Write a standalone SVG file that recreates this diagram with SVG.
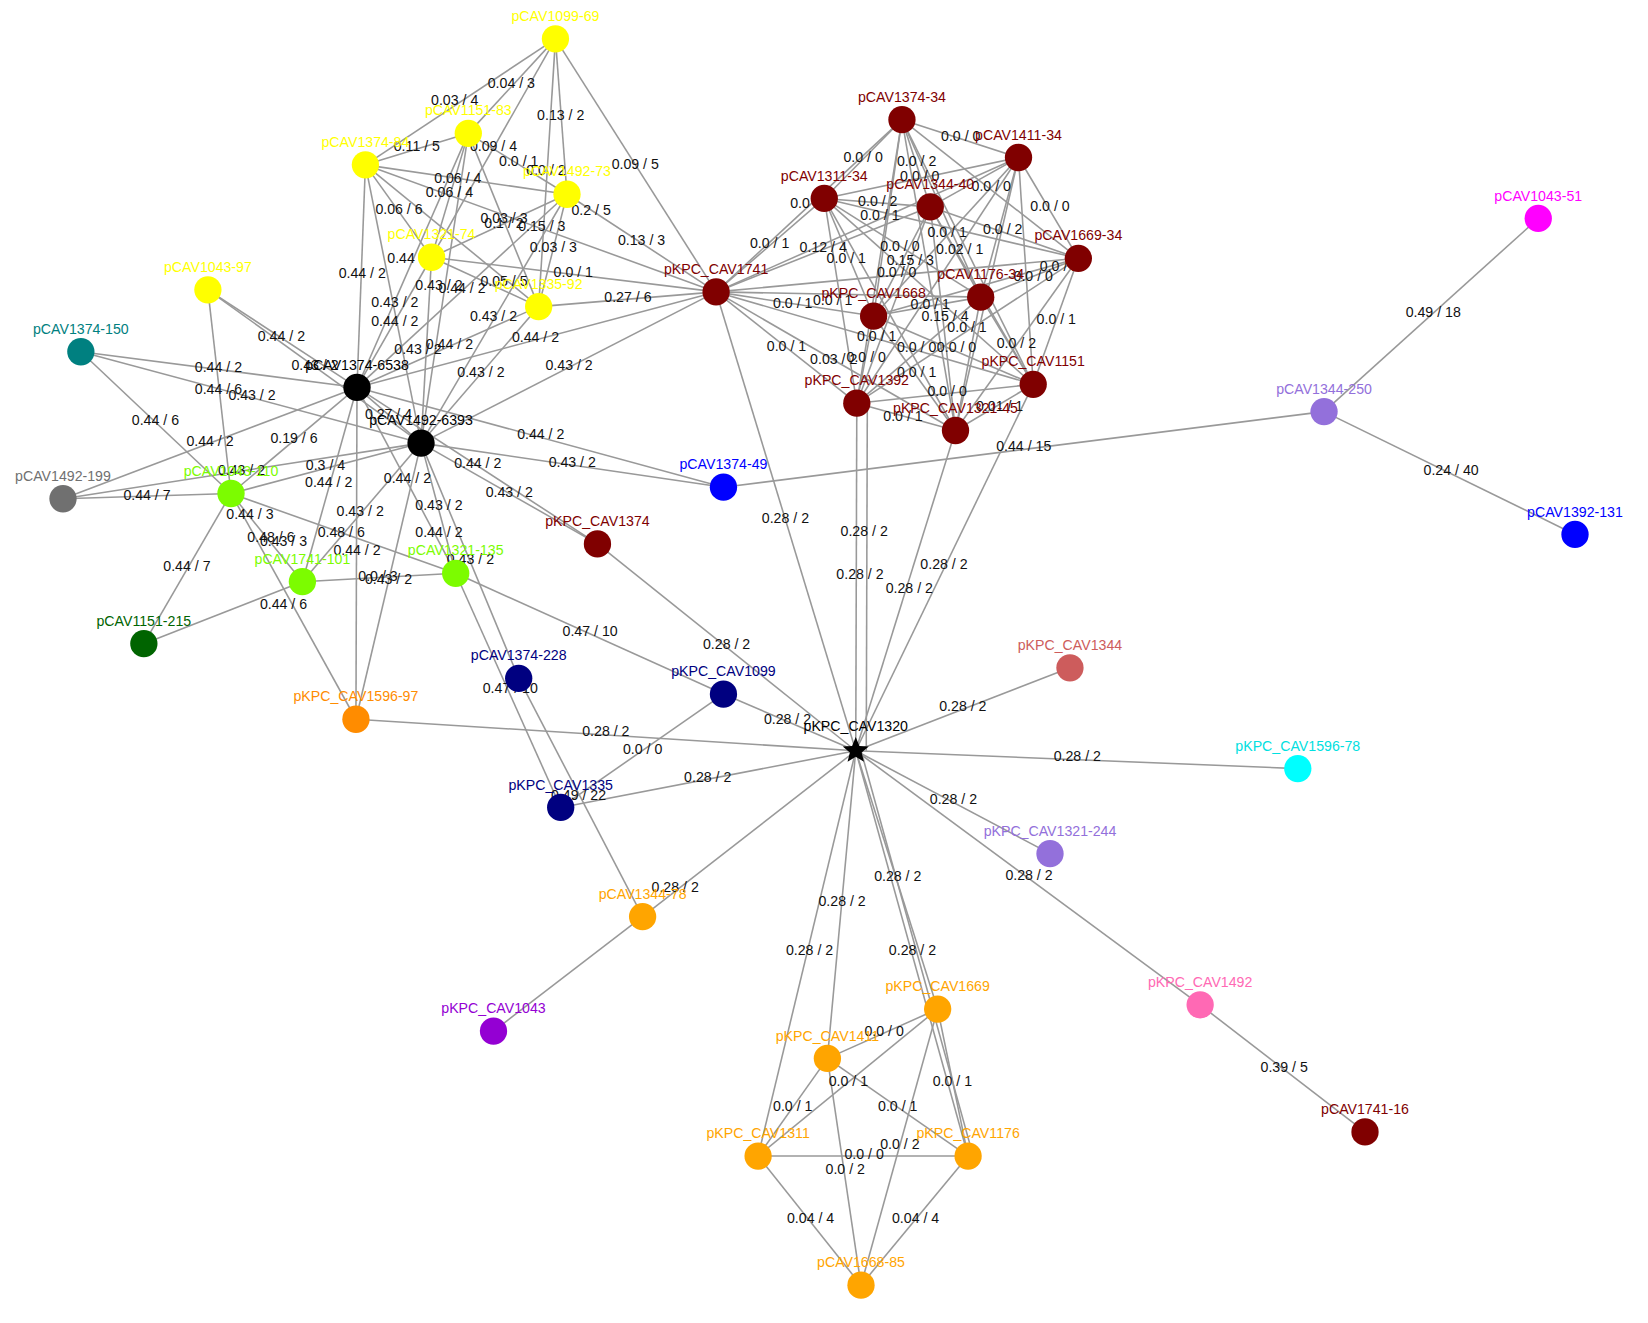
<svg xmlns="http://www.w3.org/2000/svg" width="1648" height="1323" viewBox="0 0 1648 1323">
<style>
.e line{stroke:#999;stroke-width:1.5}
.el{font-family:"Liberation Sans",Arial,sans-serif;font-size:13.5px;fill:#111;text-anchor:middle}
.nl{font-family:"Liberation Sans",Arial,sans-serif;font-size:13.5px;text-anchor:middle}
</style>
<rect width="1648" height="1323" fill="#fff"/>
<g transform="scale(1.05)">
<g id="connectors" class="e">
<line x1="529" y1="37" x2="446" y2="127"/><line x1="529" y1="37" x2="348" y2="157"/><line x1="529" y1="37" x2="540" y2="185"/><line x1="529" y1="37" x2="411" y2="245"/><line x1="529" y1="37" x2="513" y2="292"/><line x1="529" y1="37" x2="682" y2="278"/>
<line x1="446" y1="127" x2="348" y2="157"/><line x1="446" y1="127" x2="540" y2="185"/><line x1="446" y1="127" x2="513" y2="292"/><line x1="446" y1="127" x2="411" y2="245"/><line x1="446" y1="127" x2="340" y2="369"/><line x1="446" y1="127" x2="401" y2="422"/>
<line x1="348" y1="157" x2="540" y2="185"/><line x1="348" y1="157" x2="513" y2="292"/><line x1="348" y1="157" x2="411" y2="245"/><line x1="348" y1="157" x2="340" y2="369"/><line x1="348" y1="157" x2="401" y2="422"/><line x1="348" y1="157" x2="682" y2="278"/>
<line x1="540" y1="185" x2="411" y2="245"/><line x1="540" y1="185" x2="513" y2="292"/><line x1="540" y1="185" x2="682" y2="278"/><line x1="540" y1="185" x2="340" y2="369"/><line x1="540" y1="185" x2="401" y2="422"/>
<line x1="411" y1="245" x2="513" y2="292"/><line x1="411" y1="245" x2="682" y2="278"/><line x1="411" y1="245" x2="340" y2="369"/><line x1="411" y1="245" x2="401" y2="422"/>
<line x1="513" y1="292" x2="682" y2="278"/><line x1="513" y1="292" x2="340" y2="369"/><line x1="513" y1="292" x2="401" y2="422"/>
<line x1="198" y1="276" x2="340" y2="369"/><line x1="198" y1="276" x2="401" y2="422"/><line x1="198" y1="276" x2="220" y2="470"/>
<line x1="340" y1="369" x2="401" y2="422"/><line x1="340" y1="369" x2="682" y2="278"/><line x1="401" y1="422" x2="682" y2="278"/>
<line x1="340" y1="369" x2="689" y2="464"/><line x1="401" y1="422" x2="689" y2="464"/><line x1="340" y1="369" x2="569" y2="518"/><line x1="401" y1="422" x2="569" y2="518"/>
<line x1="77" y1="335" x2="340" y2="369"/><line x1="77" y1="335" x2="401" y2="422"/><line x1="77" y1="335" x2="220" y2="470"/>
<line x1="60" y1="475" x2="340" y2="369"/><line x1="60" y1="475" x2="220" y2="470"/><line x1="60" y1="475" x2="401" y2="422"/>
<line x1="220" y1="470" x2="340" y2="369"/><line x1="220" y1="470" x2="401" y2="422"/><line x1="220" y1="470" x2="137" y2="613"/><line x1="220" y1="470" x2="434" y2="546"/><line x1="220" y1="470" x2="288" y2="554"/><line x1="220" y1="470" x2="339" y2="685"/>
<line x1="288" y1="554" x2="340" y2="369"/><line x1="288" y1="554" x2="401" y2="422"/><line x1="288" y1="554" x2="434" y2="546"/><line x1="288" y1="554" x2="137" y2="613"/>
<line x1="434" y1="546" x2="340" y2="369"/><line x1="434" y1="546" x2="401" y2="422"/><line x1="340" y1="369" x2="339" y2="685"/><line x1="401" y1="422" x2="339" y2="685"/>
<line x1="434" y1="546" x2="689" y2="661"/><line x1="434" y1="546" x2="534" y2="769"/><line x1="401" y1="422" x2="494" y2="646"/><line x1="494" y1="646" x2="612" y2="873"/>
<line x1="815" y1="715" x2="682" y2="278"/><line x1="815" y1="715" x2="816" y2="384"/><line x1="825" y1="715" x2="826" y2="390"/><line x1="815" y1="715" x2="910" y2="410"/><line x1="815" y1="715" x2="984" y2="366"/>
<line x1="815" y1="715" x2="569" y2="518"/><line x1="815" y1="715" x2="689" y2="661"/><line x1="815" y1="715" x2="339" y2="685"/><line x1="815" y1="715" x2="534" y2="769"/><line x1="689" y1="661" x2="534" y2="769"/>
<line x1="815" y1="715" x2="1019" y2="636"/><line x1="815" y1="715" x2="1236" y2="732"/><line x1="815" y1="715" x2="1000" y2="813"/><line x1="815" y1="715" x2="1143" y2="957"/><line x1="1143" y1="957" x2="1300" y2="1078"/>
<line x1="815" y1="715" x2="612" y2="873"/><line x1="612" y1="873" x2="470" y2="982"/>
<line x1="815" y1="715" x2="722" y2="1101"/><line x1="815" y1="715" x2="788" y2="1008"/><line x1="815" y1="715" x2="893" y2="961"/><line x1="815" y1="715" x2="922" y2="1101"/><line x1="820" y1="715" x2="926" y2="1098"/>
<line x1="689" y1="464" x2="1261" y2="392"/><line x1="1261" y1="392" x2="1465" y2="208"/><line x1="1261" y1="392" x2="1500" y2="509"/>
<line x1="893" y1="961" x2="788" y2="1008"/><line x1="893" y1="961" x2="722" y2="1101"/><line x1="893" y1="961" x2="922" y2="1101"/><line x1="893" y1="961" x2="820" y2="1224"/>
<line x1="788" y1="1008" x2="722" y2="1101"/><line x1="788" y1="1008" x2="922" y2="1101"/><line x1="788" y1="1008" x2="820" y2="1224"/>
<line x1="722" y1="1101" x2="922" y2="1101"/><line x1="722" y1="1101" x2="820" y2="1224"/><line x1="922" y1="1101" x2="820" y2="1224"/>
<line x1="859" y1="114" x2="970" y2="150"/><line x1="859" y1="114" x2="785" y2="189"/><line x1="859" y1="114" x2="886" y2="197"/><line x1="859" y1="114" x2="1027" y2="246"/><line x1="859" y1="114" x2="682" y2="278"/><line x1="859" y1="114" x2="934" y2="283"/><line x1="859" y1="114" x2="832" y2="301"/><line x1="859" y1="114" x2="816" y2="384"/><line x1="859" y1="114" x2="984" y2="366"/><line x1="859" y1="114" x2="910" y2="410"/>
<line x1="970" y1="150" x2="785" y2="189"/><line x1="970" y1="150" x2="886" y2="197"/><line x1="970" y1="150" x2="1027" y2="246"/><line x1="970" y1="150" x2="682" y2="278"/><line x1="970" y1="150" x2="934" y2="283"/><line x1="970" y1="150" x2="832" y2="301"/><line x1="970" y1="150" x2="816" y2="384"/><line x1="970" y1="150" x2="984" y2="366"/><line x1="970" y1="150" x2="910" y2="410"/>
<line x1="785" y1="189" x2="886" y2="197"/><line x1="785" y1="189" x2="1027" y2="246"/><line x1="785" y1="189" x2="682" y2="278"/><line x1="785" y1="189" x2="934" y2="283"/><line x1="785" y1="189" x2="832" y2="301"/><line x1="785" y1="189" x2="816" y2="384"/><line x1="785" y1="189" x2="984" y2="366"/><line x1="785" y1="189" x2="910" y2="410"/>
<line x1="886" y1="197" x2="1027" y2="246"/><line x1="886" y1="197" x2="682" y2="278"/><line x1="886" y1="197" x2="934" y2="283"/><line x1="886" y1="197" x2="832" y2="301"/><line x1="886" y1="197" x2="816" y2="384"/><line x1="886" y1="197" x2="984" y2="366"/><line x1="886" y1="197" x2="910" y2="410"/>
<line x1="1027" y1="246" x2="682" y2="278"/><line x1="1027" y1="246" x2="934" y2="283"/><line x1="1027" y1="246" x2="832" y2="301"/><line x1="1027" y1="246" x2="816" y2="384"/><line x1="1027" y1="246" x2="984" y2="366"/><line x1="1027" y1="246" x2="910" y2="410"/>
<line x1="682" y1="278" x2="934" y2="283"/><line x1="682" y1="278" x2="832" y2="301"/><line x1="682" y1="278" x2="816" y2="384"/><line x1="682" y1="278" x2="984" y2="366"/><line x1="682" y1="278" x2="910" y2="410"/>
<line x1="934" y1="283" x2="832" y2="301"/><line x1="934" y1="283" x2="816" y2="384"/><line x1="934" y1="283" x2="984" y2="366"/><line x1="934" y1="283" x2="910" y2="410"/>
<line x1="832" y1="301" x2="816" y2="384"/><line x1="832" y1="301" x2="984" y2="366"/><line x1="832" y1="301" x2="910" y2="410"/>
<line x1="816" y1="384" x2="984" y2="366"/><line x1="816" y1="384" x2="910" y2="410"/><line x1="984" y1="366" x2="910" y2="410"/>
</g>
<g id="edge-labels" class="el">
<text x="487" y="84">0.04 / 3</text><text x="433" y="100">0.03 / 4</text><text x="534" y="114">0.13 / 2</text><text x="397" y="144">0.11 / 5</text><text x="470" y="144">0.09 / 4</text><text x="494" y="158">0.0 / 1</text><text x="520" y="167">0.0 / 2</text><text x="605" y="161">0.09 / 5</text>
<text x="436" y="174">0.06 / 4</text><text x="428" y="188">0.06 / 4</text><text x="563" y="205">0.2 / 5</text><text x="380" y="204">0.06 / 6</text><text x="480" y="217">0.1 / 2</text><text x="516" y="220">0.15 / 3</text><text x="480" y="212">0.03 / 3</text><text x="527" y="240">0.03 / 3</text><text x="611" y="233">0.13 / 3</text>
<text x="382" y="250">0.44</text><text x="345" y="265">0.44 / 2</text><text x="546" y="264">0.0 / 1</text><text x="480" y="272">0.05 / 5</text><text x="418" y="276">0.43 / 2</text><text x="440" y="279">0.44 / 2</text><text x="598" y="288">0.27 / 6</text>
<text x="376" y="292">0.43 / 2</text><text x="376" y="310">0.44 / 2</text><text x="470" y="306">0.43 / 2</text><text x="268" y="325">0.44 / 2</text><text x="510" y="326">0.44 / 2</text><text x="428" y="332">0.44 / 2</text><text x="398" y="337">0.43 / 2</text><text x="542" y="352">0.43 / 2</text><text x="458" y="359">0.43 / 2</text>
<text x="208" y="354">0.44 / 2</text><text x="300" y="352">0.43 / 2</text><text x="208" y="375">0.44 / 6</text><text x="240" y="381">0.43 / 2</text><text x="148" y="405">0.44 / 6</text><text x="370" y="399">0.27 / 4</text><text x="200" y="425">0.44 / 2</text><text x="280" y="422">0.19 / 6</text><text x="515" y="418">0.44 / 2</text>
<text x="310" y="448">0.3 / 4</text><text x="455" y="446">0.44 / 2</text><text x="545" y="445">0.43 / 2</text><text x="230" y="452">0.43 / 2</text><text x="313" y="464">0.44 / 2</text><text x="388" y="460">0.44 / 2</text><text x="140" y="476">0.44 / 7</text><text x="485" y="473">0.43 / 2</text><text x="418" y="486">0.43 / 2</text><text x="343" y="491">0.43 / 2</text>
<text x="238" y="494">0.44 / 3</text><text x="325" y="511">0.48 / 6</text><text x="258" y="516">0.48 / 6</text><text x="270" y="520">0.43 / 3</text><text x="418" y="511">0.44 / 2</text><text x="340" y="529">0.44 / 2</text><text x="448" y="537">0.43 / 2</text><text x="178" y="544">0.44 / 7</text><text x="360" y="553">0.0 / 3</text><text x="370" y="556">0.43 / 2</text><text x="270" y="580">0.44 / 6</text>
<text x="562" y="606">0.47 / 10</text><text x="486" y="660">0.47 / 10</text><text x="692" y="618">0.28 / 2</text><text x="748" y="498">0.28 / 2</text><text x="823" y="510">0.28 / 2</text><text x="819" y="551">0.28 / 2</text><text x="866" y="565">0.28 / 2</text><text x="899" y="542">0.28 / 2</text>
<text x="750" y="690">0.28 / 2</text><text x="577" y="701">0.28 / 2</text><text x="612" y="718">0.0 / 0</text><text x="674" y="745">0.28 / 2</text><text x="551" y="762">0.49 / 22</text>
<text x="917" y="677">0.28 / 2</text><text x="1026" y="725">0.28 / 2</text><text x="908" y="766">0.28 / 2</text><text x="980" y="838">0.28 / 2</text><text x="1223" y="1021">0.39 / 5</text><text x="975" y="430">0.44 / 15</text><text x="1365" y="302">0.49 / 18</text><text x="1382" y="452">0.24 / 40</text>
<text x="643" y="850">0.28 / 2</text><text x="855" y="839">0.28 / 2</text><text x="802" y="863">0.28 / 2</text><text x="771" y="910">0.28 / 2</text><text x="869" y="910">0.28 / 2</text>
<text x="842" y="987">0.0 / 0</text><text x="808" y="1034">0.0 / 1</text><text x="907" y="1034">0.0 / 1</text><text x="755" y="1058">0.0 / 1</text><text x="855" y="1058">0.0 / 1</text><text x="857" y="1094">0.0 / 2</text><text x="823" y="1104">0.0 / 0</text><text x="805" y="1118">0.0 / 2</text><text x="772" y="1165">0.04 / 4</text><text x="872" y="1165">0.04 / 4</text>
<text x="822" y="154">0.0 / 0</text><text x="873" y="158">0.0 / 2</text><text x="876" y="172">0.0 / 0</text><text x="944" y="182">0.0 / 0</text><text x="1000" y="201">0.0 / 0</text><text x="915" y="134">0.0 / 0</text><text x="836" y="196">0.0 / 2</text><text x="838" y="210">0.0 / 1</text><text x="762" y="198">0.0</text>
<text x="733" y="236">0.0 / 1</text><text x="784" y="240">0.12 / 4</text><text x="857" y="239">0.0 / 0</text><text x="902" y="226">0.0 / 1</text><text x="955" y="223">0.0 / 2</text><text x="914" y="242">0.02 / 1</text><text x="867" y="252">0.15 / 3</text><text x="806" y="250">0.0 / 1</text>
<text x="854" y="264">0.0 / 0</text><text x="1009" y="258">0.0 / 1</text><text x="984" y="268">0.0 / 0</text><text x="755" y="293">0.0 / 1</text><text x="793" y="290">0.0 / 1</text><text x="900" y="306">0.15 / 4</text><text x="886" y="294">0.0 / 1</text><text x="921" y="316">0.0 / 1</text><text x="1006" y="309">0.0 / 1</text>
<text x="835" y="325">0.0 / 1</text><text x="749" y="334">0.0 / 1</text><text x="968" y="331">0.0 / 2</text><text x="794" y="347">0.03 / 2</text><text x="825" y="345">0.0 / 0</text><text x="873" y="335">0.0 / 0</text><text x="911" y="335">0.0 / 0</text><text x="873" y="359">0.0 / 1</text><text x="902" y="377">0.0 / 0</text><text x="860" y="401">0.0 / 1</text><text x="952" y="391">0.01 / 1</text>
</g>
<g id="nodes">
<g id="n-pCAV1099-69"><circle cx="529" cy="37" r="13" fill="#ffff00"/><text class="nl" x="529" y="20" fill="#ffff00">pCAV1099-69</text></g>
<g id="n-pCAV1151-83"><circle cx="446" cy="127" r="13" fill="#ffff00"/><text class="nl" x="446" y="110" fill="#ffff00">pCAV1151-83</text></g>
<g id="n-pCAV1374-84"><circle cx="348" cy="157" r="13" fill="#ffff00"/><text class="nl" x="348" y="140" fill="#ffff00">pCAV1374-84</text></g>
<g id="n-pCAV1492-73"><circle cx="540" cy="185" r="13" fill="#ffff00"/><text class="nl" x="540" y="168" fill="#ffff00">pCAV1492-73</text></g>
<g id="n-pCAV1321-74"><circle cx="411" cy="245" r="13" fill="#ffff00"/><text class="nl" x="411" y="228" fill="#ffff00">pCAV1321-74</text></g>
<g id="n-pCAV1335-92"><circle cx="513" cy="292" r="13" fill="#ffff00"/><text class="nl" x="513" y="275" fill="#ffff00">pCAV1335-92</text></g>
<g id="n-pCAV1043-97"><circle cx="198" cy="276" r="13" fill="#ffff00"/><text class="nl" x="198" y="259" fill="#ffff00">pCAV1043-97</text></g>
<g id="n-pCAV1374-6538"><circle cx="340" cy="369" r="13" fill="#000"/><text class="nl" x="340" y="352" fill="#000">pCAV1374-6538</text></g>
<g id="n-pCAV1492-6393"><circle cx="401" cy="422" r="13" fill="#000"/><text class="nl" x="401" y="405" fill="#000">pCAV1492-6393</text></g>
<g id="n-pCAV1374-150"><circle cx="77" cy="335" r="13" fill="#008080"/><text class="nl" x="77" y="318" fill="#008080">pCAV1374-150</text></g>
<g id="n-pCAV1492-199"><circle cx="60" cy="475" r="13" fill="#707070"/><text class="nl" x="60" y="458" fill="#707070">pCAV1492-199</text></g>
<g id="n-pCAV1043-110"><circle cx="220" cy="470" r="13" fill="#7cfc00"/><text class="nl" x="220" y="453" fill="#7cfc00">pCAV1043-110</text></g>
<g id="n-pCAV1741-101"><circle cx="288" cy="554" r="13" fill="#7cfc00"/><text class="nl" x="288" y="537" fill="#7cfc00">pCAV1741-101</text></g>
<g id="n-pCAV1321-135"><circle cx="434" cy="546" r="13" fill="#7cfc00"/><text class="nl" x="434" y="529" fill="#7cfc00">pCAV1321-135</text></g>
<g id="n-pCAV1151-215"><circle cx="137" cy="613" r="13" fill="#006400"/><text class="nl" x="137" y="596" fill="#006400">pCAV1151-215</text></g>
<g id="n-pCAV1374-228"><circle cx="494" cy="646" r="13" fill="#000080"/><text class="nl" x="494" y="629" fill="#000080">pCAV1374-228</text></g>
<g id="n-pKPC_CAV1099"><circle cx="689" cy="661" r="13" fill="#000080"/><text class="nl" x="689" y="644" fill="#000080">pKPC_CAV1099</text></g>
<g id="n-pKPC_CAV1335"><circle cx="534" cy="769" r="13" fill="#000080"/><text class="nl" x="534" y="752" fill="#000080">pKPC_CAV1335</text></g>
<g id="n-pKPC_CAV1596-97"><circle cx="339" cy="685" r="13" fill="#ff8c00"/><text class="nl" x="339" y="668" fill="#ff8c00">pKPC_CAV1596-97</text></g>
<g id="n-pCAV1374-49"><circle cx="689" cy="464" r="13" fill="#0000ff"/><text class="nl" x="689" y="447" fill="#0000ff">pCAV1374-49</text></g>
<g id="n-pKPC_CAV1374"><circle cx="569" cy="518" r="13" fill="#800000"/><text class="nl" x="569" y="501" fill="#800000">pKPC_CAV1374</text></g>
<g id="n-pCAV1374-34"><circle cx="859" cy="114" r="13" fill="#800000"/><text class="nl" x="859" y="97" fill="#800000">pCAV1374-34</text></g>
<g id="n-pCAV1411-34"><circle cx="970" cy="150" r="13" fill="#800000"/><text class="nl" x="970" y="133" fill="#800000">pCAV1411-34</text></g>
<g id="n-pCAV1311-34"><circle cx="785" cy="189" r="13" fill="#800000"/><text class="nl" x="785" y="172" fill="#800000">pCAV1311-34</text></g>
<g id="n-pCAV1344-40"><circle cx="886" cy="197" r="13" fill="#800000"/><text class="nl" x="886" y="180" fill="#800000">pCAV1344-40</text></g>
<g id="n-pCAV1669-34"><circle cx="1027" cy="246" r="13" fill="#800000"/><text class="nl" x="1027" y="229" fill="#800000">pCAV1669-34</text></g>
<g id="n-pKPC_CAV1741"><circle cx="682" cy="278" r="13" fill="#800000"/><text class="nl" x="682" y="261" fill="#800000">pKPC_CAV1741</text></g>
<g id="n-pCAV1176-34"><circle cx="934" cy="283" r="13" fill="#800000"/><text class="nl" x="934" y="266" fill="#800000">pCAV1176-34</text></g>
<g id="n-pKPC_CAV1668"><circle cx="832" cy="301" r="13" fill="#800000"/><text class="nl" x="832" y="284" fill="#800000">pKPC_CAV1668</text></g>
<g id="n-pKPC_CAV1392"><circle cx="816" cy="384" r="13" fill="#800000"/><text class="nl" x="816" y="367" fill="#800000">pKPC_CAV1392</text></g>
<g id="n-pKPC_CAV1151"><circle cx="984" cy="366" r="13" fill="#800000"/><text class="nl" x="984" y="349" fill="#800000">pKPC_CAV1151</text></g>
<g id="n-pKPC_CAV1321-45"><circle cx="910" cy="410" r="13" fill="#800000"/><text class="nl" x="910" y="393" fill="#800000">pKPC_CAV1321-45</text></g>
<g id="n-pCAV1741-16"><circle cx="1300" cy="1078" r="13" fill="#800000"/><text class="nl" x="1300" y="1061" fill="#800000">pCAV1741-16</text></g>
<g id="n-pCAV1043-51"><circle cx="1465" cy="208" r="13" fill="#ff00ff"/><text class="nl" x="1465" y="191" fill="#ff00ff">pCAV1043-51</text></g>
<g id="n-pCAV1344-250"><circle cx="1261" cy="392" r="13" fill="#9370db"/><text class="nl" x="1261" y="375" fill="#9370db">pCAV1344-250</text></g>
<g id="n-pCAV1392-131"><circle cx="1500" cy="509" r="13" fill="#0000ff"/><text class="nl" x="1500" y="492" fill="#0000ff">pCAV1392-131</text></g>
<g id="n-pKPC_CAV1344"><circle cx="1019" cy="636" r="13" fill="#cd5c5c"/><text class="nl" x="1019" y="619" fill="#cd5c5c">pKPC_CAV1344</text></g>
<g id="n-pKPC_CAV1596-78"><circle cx="1236" cy="732" r="13" fill="#00ffff"/><text class="nl" x="1236" y="715" fill="#00e0e0">pKPC_CAV1596-78</text></g>
<g id="n-pKPC_CAV1321-244"><circle cx="1000" cy="813" r="13" fill="#9370db"/><text class="nl" x="1000" y="796" fill="#9370db">pKPC_CAV1321-244</text></g>
<g id="n-pKPC_CAV1492"><circle cx="1143" cy="957" r="13" fill="#ff69b4"/><text class="nl" x="1143" y="940" fill="#ff69b4">pKPC_CAV1492</text></g>
<g id="n-pCAV1344-78"><circle cx="612" cy="873" r="13" fill="#ffa500"/><text class="nl" x="612" y="856" fill="#ffa500">pCAV1344-78</text></g>
<g id="n-pKPC_CAV1043"><circle cx="470" cy="982" r="13" fill="#9400d3"/><text class="nl" x="470" y="965" fill="#9400d3">pKPC_CAV1043</text></g>
<g id="n-pKPC_CAV1669"><circle cx="893" cy="961" r="13" fill="#ffa500"/><text class="nl" x="893" y="944" fill="#ffa500">pKPC_CAV1669</text></g>
<g id="n-pKPC_CAV1411"><circle cx="788" cy="1008" r="13" fill="#ffa500"/><text class="nl" x="788" y="991" fill="#ffa500">pKPC_CAV1411</text></g>
<g id="n-pKPC_CAV1311"><circle cx="722" cy="1101" r="13" fill="#ffa500"/><text class="nl" x="722" y="1084" fill="#ffa500">pKPC_CAV1311</text></g>
<g id="n-pKPC_CAV1176"><circle cx="922" cy="1101" r="13" fill="#ffa500"/><text class="nl" x="922" y="1084" fill="#ffa500">pKPC_CAV1176</text></g>
<g id="n-pCAV1668-85"><circle cx="820" cy="1224" r="13" fill="#ffa500"/><text class="nl" x="820" y="1207" fill="#ffa500">pCAV1668-85</text></g>
<g id="n-pKPC_CAV1320"><polygon points="815,702 818.5,710.5 827.4,711 820.6,716.7 822.8,725.5 815,720.6 807.2,725.5 809.4,716.7 802.6,711 811.5,710.5" fill="#000"/><text class="nl" x="815" y="696" fill="#000">pKPC_CAV1320</text></g>
</g>
</g>
</svg>
